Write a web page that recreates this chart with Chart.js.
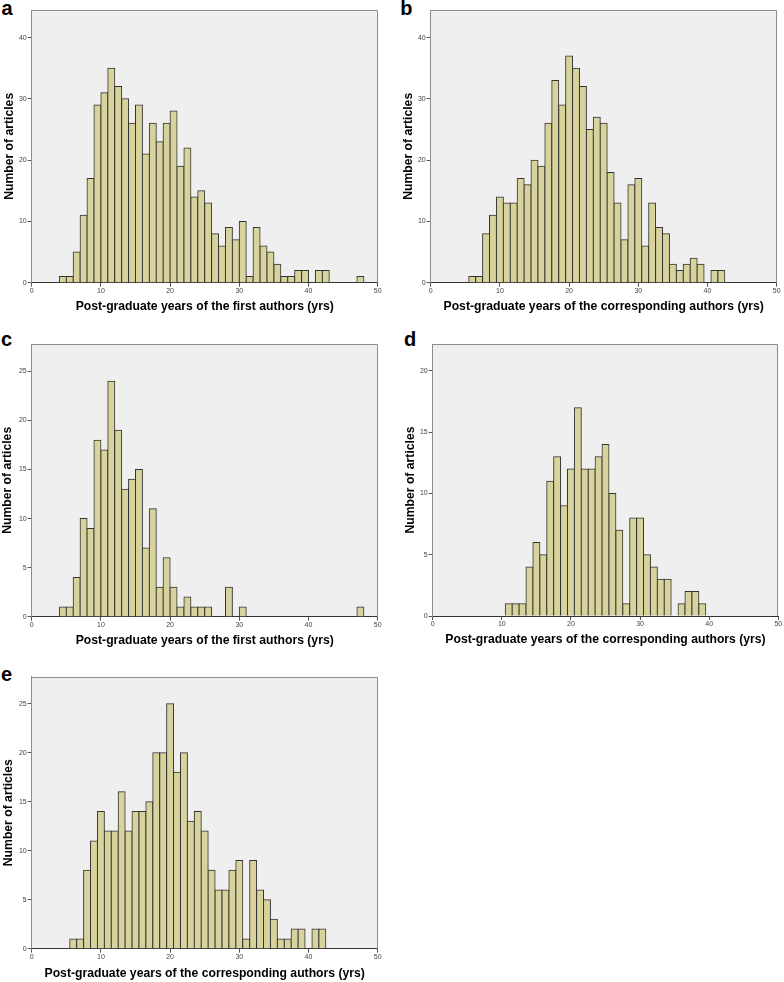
<!DOCTYPE html>
<html><head><meta charset="utf-8">
<script src="https://cdn.jsdelivr.net/npm/chart.js@4.4.1/dist/chart.umd.min.js"></script>
<style>
html,body{margin:0;padding:0;background:#fff;}
body{width:784px;height:982px;position:relative;overflow:hidden;}
canvas{position:absolute;}
.lbl{position:absolute;font:bold 20px/20px 'Liberation Sans',Arial,sans-serif;color:#000;}
</style></head><body>
<div class="lbl" style="left:1.4px;top:-2px">a</div>
<div class="lbl" style="left:400.3px;top:-2px">b</div>
<div class="lbl" style="left:1px;top:328.8px">c</div>
<div class="lbl" style="left:404px;top:328.8px">d</div>
<div class="lbl" style="left:1px;top:663.8px">e</div>
<script>
// ---------- data ----------
const xTitleFirst = 'Post-graduate years of the first authors (yrs)';
const xTitleCorr = 'Post-graduate years of the corresponding authors (yrs)';
const yTitle = 'Number of articles';
const xTickMin = 0, xTickMax = 50, xTickStep = 10;

// left edge of the first bin (bin width 1 year) and counts per bin
const binStartA = 4;
const countsA = [1,1,5,11,17,29,31,35,32,30,26,29,21,26,23,26,28,19,22,14,15,13,8,6,9,7,10,1,9,6,5,3,1,1,2,2,0,2,2,0,0,0,0,1];
const yMaxA = 44.5, yStepA = 10;

const binStartB = 5.5;
const countsB = [1,1,8,11,14,13,13,17,16,20,19,26,33,29,37,35,32,25,27,26,18,13,7,16,17,6,13,9,8,3,2,3,4,3,0,2,2];
const yMaxB = 44.5, yStepB = 10;

const binStartC = 4;
const countsC = [1,1,4,10,9,18,17,24,19,13,14,15,7,11,3,6,3,1,2,1,1,1,0,0,3,0,1,0,0,0,0,0,0,0,0,0,0,0,0,0,0,0,0,1];
const yMaxC = 27.8, yStepC = 5;

const binStartD = 10.5;
const countsD = [1,1,1,4,6,5,11,13,9,12,17,12,12,13,14,10,7,1,8,8,5,4,3,3,0,1,2,2,1];
const yMaxD = 22.2, yStepD = 5;

const binStartE = 5.5;
const countsE = [1,1,8,11,14,12,12,16,12,14,14,15,20,20,25,18,20,13,14,12,8,6,6,8,9,1,9,6,5,3,1,1,2,2,0,2,2];
const yMaxE = 27.75, yStepE = 5;

// ---------- layout / style ----------
const FONT = "'Liberation Sans', Arial, sans-serif";
const TITLE_SIZE = 12.2;
const BAR_FILL = '#d8d39c';
const BAR_EDGE = '#333333';
const PLOT_BG = '#efefef';
const FRAME = '#8c8c8c';

const layoutGeo = {
  a: {l:31.7, t:10, r:377.7, b:282.7, yt:9.3, xt:306.7},
  b: {l:430.7, t:10, r:776.7, b:282.7, yt:408.7, xt:306.7},
  c: {l:31.7, t:344, r:377.7, b:616.7, yt:7.8, xt:640.2},
  d: {l:432.7, t:344, r:778.3, b:616, yt:410.8, xt:639.6},
  e: {l:31.7, t:676.7, r:377.7, b:948.7, yt:8.2, xt:973.4}
};

const panels = [
  {id:'a', start:binStartA, counts:countsA, yMax:yMaxA, yStep:yStepA, xTitle:xTitleFirst},
  {id:'b', start:binStartB, counts:countsB, yMax:yMaxB, yStep:yStepB, xTitle:xTitleCorr},
  {id:'c', start:binStartC, counts:countsC, yMax:yMaxC, yStep:yStepC, xTitle:xTitleFirst},
  {id:'d', start:binStartD, counts:countsD, yMax:yMaxD, yStep:yStepD, xTitle:xTitleCorr},
  {id:'e', start:binStartE, counts:countsE, yMax:yMaxE, yStep:yStepE, xTitle:xTitleCorr}
];

const framePlugin = {
  id: 'frame',
  beforeDraw(chart) {
    const {ctx, chartArea: a} = chart;
    ctx.save();
    ctx.fillStyle = PLOT_BG;
    ctx.fillRect(a.left, a.top, a.right - a.left, a.bottom - a.top);
    ctx.restore();
  },
  afterDraw(chart) {
    const {ctx, chartArea: a} = chart;
    ctx.save();
    ctx.strokeStyle = FRAME;
    ctx.lineWidth = 1;
    const top = Math.round(a.top) + 0.5, right = Math.round(a.right) - 0.5;
    ctx.beginPath();
    ctx.moveTo(Math.round(a.left), top);
    ctx.lineTo(right, top);
    ctx.lineTo(right, a.bottom);
    ctx.stroke();
    ctx.restore();
  }
};

function build(p, g) {
  const half = TITLE_SIZE * 1.2 / 2;
  const L = Math.floor(g.yt - half - 1), T = Math.floor(g.t - 8);
  const R = Math.ceil(g.r + 8), B = Math.ceil(g.xt + half + 1);
  const cv = document.createElement('canvas');
  cv.width = R - L; cv.height = B - T;
  cv.style.left = L + 'px'; cv.style.top = T + 'px';
  cv.style.width = (R - L) + 'px'; cv.style.height = (B - T) + 'px';
  document.body.appendChild(cv);
  const yw = g.l - L, xh = B - g.b;
  const pts = p.counts.map((v, i) => ({x: p.start + i + 0.5, y: v})).filter(d => d.y > 0);
  new Chart(cv, {
    type: 'bar',
    data: {datasets: [{
      data: pts,
      backgroundColor: BAR_FILL,
      borderColor: BAR_EDGE,
      borderWidth: 1,
      inflateAmount: 0.5,
      barPercentage: 1,
      categoryPercentage: 1
    }]},
    options: {
      responsive: false,
      animation: false,
      devicePixelRatio: 1,
      layout: {padding: {left: 0, top: g.t - T, right: R - g.r, bottom: 0}},
      plugins: {legend: {display: false}, tooltip: {enabled: false}},
      scales: {
        x: {
          type: 'linear', min: xTickMin, max: xTickMax, offset: false,
          grid: {display: true, drawOnChartArea: false, drawTicks: true, tickLength: 4, color: '#555', offset: false},
          border: {display: true, color: '#333', width: 1},
          ticks: {stepSize: xTickStep, includeBounds: false, autoSkip: false, maxRotation: 0,
                  font: {family: FONT, size: 7}, color: '#444', padding: 0},
          title: {display: true, text: p.xTitle, color: '#000',
                  font: {family: FONT, size: TITLE_SIZE, weight: 'bold'},
                  padding: {top: 0, bottom: B - g.xt - half}},
          afterFit(s) { s.height = xh; }
        },
        y: {
          type: 'linear', min: 0, max: p.yMax,
          grid: {display: true, drawOnChartArea: false, drawTicks: true, tickLength: 4, color: '#555'},
          border: {display: true, color: FRAME, width: 1},
          ticks: {stepSize: p.yStep, includeBounds: false, font: {family: FONT, size: 7}, color: '#444', padding: 1},
          title: {display: true, text: yTitle, color: '#000',
                  font: {family: FONT, size: TITLE_SIZE, weight: 'bold'},
                  padding: {top: g.yt - L - half, bottom: 0}},
          afterFit(s) { s.width = yw; }
        }
      }
    },
    plugins: [framePlugin]
  });
}

panels.forEach(p => build(p, layoutGeo[p.id]));
</script>
</body></html>
